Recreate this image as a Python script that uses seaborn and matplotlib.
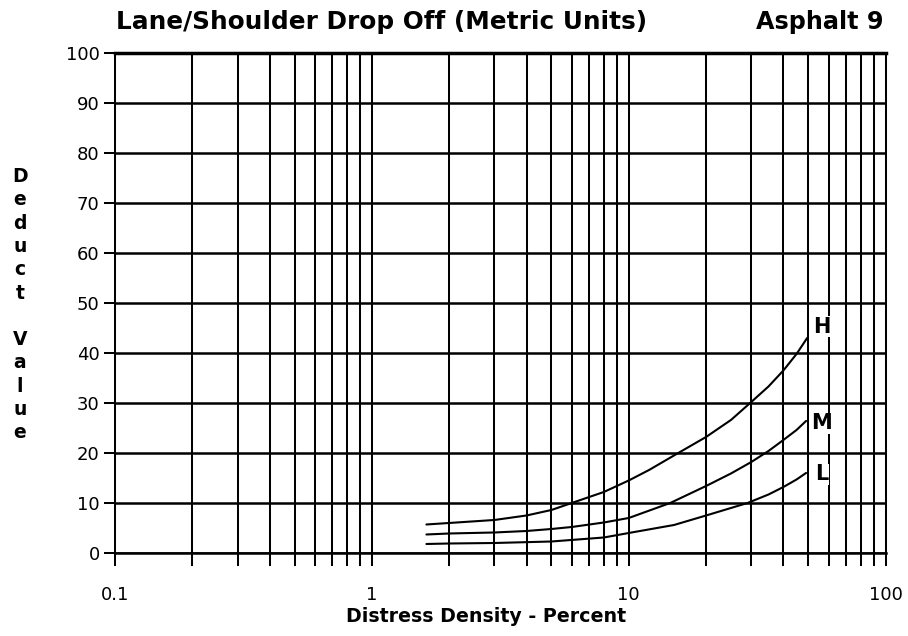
import matplotlib
matplotlib.use("Agg")
import matplotlib.pyplot as plt
from matplotlib.ticker import FixedLocator, NullFormatter
import seaborn as sns
import pandas as pd

# Data
density_H = [1.63, 2, 3, 4, 5, 6, 8, 10, 12, 15, 20, 25, 30, 35, 40, 45, 49.5]
deduct_H = [5.7, 6.0, 6.6, 7.5, 8.6, 10, 12.2, 14.5, 16.6, 19.5, 23.2, 26.6, 30.2, 33.3, 36.5, 39.8, 43]
density_M = [1.63, 2, 3, 4, 5, 6, 8, 10, 14.5, 20, 25, 30, 35, 40, 45, 49]
deduct_M = [3.7, 3.9, 4.1, 4.4, 4.8, 5.2, 6.1, 7.0, 10, 13.4, 15.9, 18.2, 20.4, 22.6, 24.6, 26.4]
density_L = [1.63, 2, 3, 5, 8, 10, 15, 20, 29, 35, 40, 45, 49]
deduct_L = [1.8, 1.9, 2.0, 2.3, 3.1, 4.0, 5.6, 7.5, 10, 11.7, 13.2, 14.7, 16]
severity_labels = ["H", "M", "L"]
label_y = [45.2, 25.9, 15.7]
label_x = 56.3
x_ticks = [0.1, 1, 10, 100]
x_tick_labels = ["0.1", "1", "10", "100"]
x_minor = [0.2, 0.3, 0.4, 0.5, 0.6, 0.7, 0.8, 0.9,
           2, 3, 4, 5, 6, 7, 8, 9,
           20, 30, 40, 50, 60, 70, 80, 90]
y_ticks = [0, 10, 20, 30, 40, 50, 60, 70, 80, 90, 100]

df = pd.concat([
    pd.DataFrame({"x": density_H, "y": deduct_H, "sev": "H"}),
    pd.DataFrame({"x": density_M, "y": deduct_M, "sev": "M"}),
    pd.DataFrame({"x": density_L, "y": deduct_L, "sev": "L"}),
])

sns.set_style("white")
plt.rcParams["font.family"] = ["DejaVu Sans"]
for k in ["text.color", "axes.labelcolor", "xtick.color", "ytick.color", "axes.edgecolor"]:
    plt.rcParams[k] = "black"

fig = plt.figure(figsize=(9.08, 6.36), dpi=100)
ax = fig.add_axes([115 / 908, 1 - 553 / 636, (885.7 - 115) / 908, (553 - 52.7) / 636])

sns.lineplot(data=df, x="x", y="y", hue="sev", palette={"H": "black", "M": "black", "L": "black"},
             legend=False, ax=ax, linewidth=1.5, sort=True, estimator=None, zorder=3)

ax.set_xscale("log")
ax.set_xlim(0.1, 100)
ax.set_ylim(0, 100)

# grid
for v in x_ticks + x_minor:
    ax.axvline(v, color="black", lw=1.45, zorder=1)
for v in y_ticks:
    ax.axhline(v, color="black", lw=1.8, zorder=1)

ax.xaxis.set_major_locator(FixedLocator(x_ticks))
ax.set_xticklabels(x_tick_labels)
ax.xaxis.set_minor_locator(FixedLocator(x_minor))
ax.xaxis.set_minor_formatter(NullFormatter())
ax.set_yticks(y_ticks)
ax.tick_params(axis="both", which="both", labelsize=13, direction="out", width=1.45)
ax.tick_params(axis="x", which="both", length=9, pad=15, bottom=True)
ax.tick_params(axis="y", length=8, pad=3, left=True)
for s in ax.spines.values():
    s.set_visible(True)
    s.set_linewidth(1.45)
ax.spines["top"].set_linewidth(2.5)
ax.spines["bottom"].set_linewidth(1.8)

ax.set_xlabel("")
ax.set_ylabel("")

fig.text(486 / 908, 1 - 617 / 636, "Distress Density - Percent", fontsize=13.7, fontweight="bold",
         ha="center", va="center")
fig.text(116 / 908, 0.965, "Lane/Shoulder Drop Off (Metric Units)", fontsize=17.8, fontweight="bold",
         ha="left", va="center")
fig.text(884 / 908, 0.965, "Asphalt 9", fontsize=17.2, fontweight="bold", ha="right", va="center")
fig.text(20 / 908, 0.521, "D\ne\nd\nu\nc\nt\n\nV\na\nl\nu\ne", fontsize=13.5, fontweight="bold",
         ha="center", va="center", linespacing=1.285)

for lab, ly in zip(severity_labels, label_y):
    ax.text(label_x, ly, lab, fontsize=15, fontweight="bold", ha="center", va="center",
            bbox=dict(facecolor="white", edgecolor="none", pad=0.3), zorder=5)

fig.savefig("out.png", dpi=100, facecolor="white")
